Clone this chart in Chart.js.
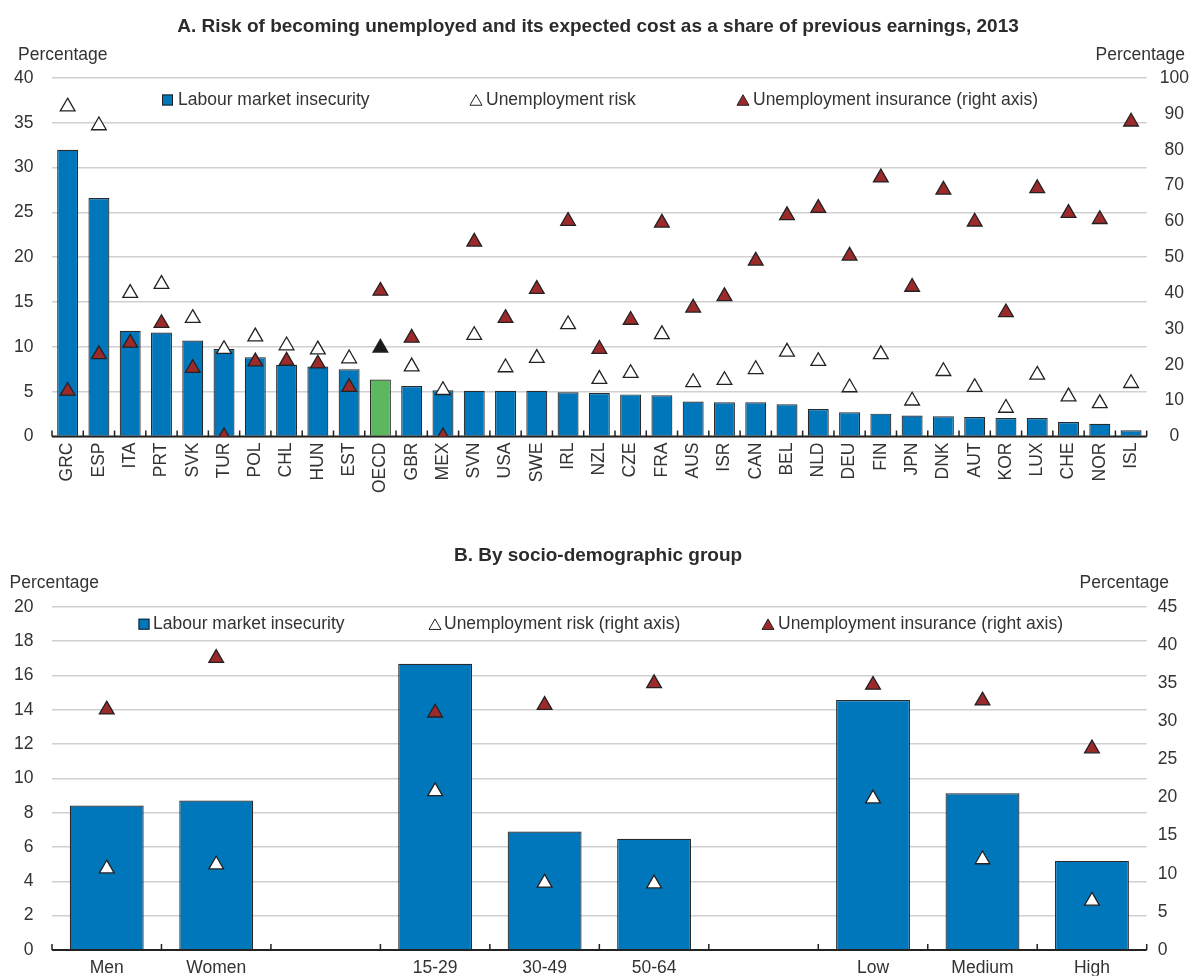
<!DOCTYPE html>
<html>
<head>
<meta charset="utf-8">
<title>Labour market insecurity</title>
<script src="https://cdn.jsdelivr.net/npm/chart.js@4/dist/chart.umd.min.js"></script>
<style>
  html, body { margin: 0; padding: 0; background: #fff; overflow: hidden; }
  .panel { position: relative; width: 1196px; }
  #panel-a { height: 500px; }
  #panel-b { height: 479px; }
</style>
</head>
<body>
<div class="panel" id="panel-a"><canvas id="chart-a"></canvas></div>
<div class="panel" id="panel-b"><canvas id="chart-b"></canvas></div>
<script>
// Panel A: countries, 2013
const countries = ['GRC', 'ESP', 'ITA', 'PRT', 'SVK', 'TUR', 'POL', 'CHL', 'HUN', 'EST', 'OECD', 'GBR', 'MEX', 'SVN', 'USA', 'SWE', 'IRL', 'NZL', 'CZE', 'FRA', 'AUS', 'ISR', 'CAN', 'BEL', 'NLD', 'DEU', 'FIN', 'JPN', 'DNK', 'AUT', 'KOR', 'LUX', 'CHE', 'NOR', 'ISL'];
const insecurityA = [32.0, 26.6, 11.8, 11.6, 10.7, 9.75, 8.85, 8.0, 7.8, 7.5, 6.35, 5.64, 5.16, 5.1, 5.1, 5.1, 4.94, 4.86, 4.7, 4.6, 3.9, 3.82, 3.82, 3.6, 3.07, 2.7, 2.55, 2.33, 2.25, 2.18, 2.07, 2.07, 1.62, 1.43, 0.69];
const riskA = [36.8, 34.7, 16.0, 17.0, 13.2, 9.74, 11.15, 10.15, 9.7, 8.7, 9.9, 7.8, 5.16, 11.3, 7.7, 8.74, 12.5, 6.4, 7.06, 11.4, 6.05, 6.28, 7.5, 9.44, 8.4, 5.47, 9.16, 3.99, 7.28, 5.5, 3.18, 6.87, 4.45, 3.7, 5.94];
const insuranceA = [12.7, 22.9, 26.1, 31.6, 19.05, 0, 20.9, 21.1, 20.3, 13.75, 40.6, 27.5, 0, 54.3, 33.0, 41.1, 60.1, 24.4, 32.5, 59.6, 35.9, 39.1, 49.0, 61.7, 63.7, 50.4, 72.2, 41.7, 68.8, 59.9, 34.6, 69.2, 62.3, 60.6, 87.8];
const ticksA = { left: [0, 40, 5], right: [0, 100, 10] };

// Panel B: socio-demographic groups (blank slots separate the groups)
const groups = ['Men', 'Women', '', '15-29', '30-49', '50-64', '', 'Low', 'Medium', 'High'];
const insecurityB = [8.42, 8.71, null, 16.67, 6.9, 6.48, null, 14.56, 9.13, 5.19];
const riskB = [10.66, 11.18, null, 20.8, 8.8, 8.7, null, 19.84, 11.86, 6.43];
const insuranceB = [31.5, 38.26, null, 31.1, 32.1, 34.95, null, 34.74, 32.68, 26.4];
const ticksB = { left: [0, 20, 2], right: [0, 45, 5] };

const FONT = '"Liberation Sans", Arial, Helvetica, sans-serif';
const TEXT = '#333333';
const AXIS = '#222222';
const BLUE = '#0076bb';
const GREEN = '#5cb85c';
const RED = '#9c2a2b';
const GRID = '#d0d0d0';

Chart.defaults.font.family = FONT;
Chart.defaults.font.size = 17.5;
Chart.defaults.color = TEXT;

// triangle whose bounding box is centred on (cx, cy)
function triangle(ctx, cx, cy, w, h) {
  ctx.beginPath();
  ctx.moveTo(cx, cy - h / 2);
  ctx.lineTo(cx + w / 2, cy + h / 2);
  ctx.lineTo(cx - w / 2, cy + h / 2);
  ctx.closePath();
  ctx.fill();
  ctx.stroke();
}

// x axis line + category ticks (drawn right after the bars, below the markers),
// unit captions and the in-plot legend
const panelDecor = {
  id: 'panelDecor',
  afterDatasetDraw(chart, args) {
    if (args.meta.type !== 'bar') return;
    const { ctx, chartArea: area } = chart;
    const xs = chart.scales.x;
    const n = xs.getLabels().length;
    const step = (xs.right - xs.left) / n;
    ctx.save();
    ctx.strokeStyle = AXIS;
    ctx.lineWidth = 2.2;
    ctx.beginPath();
    ctx.moveTo(xs.left, area.bottom);
    ctx.lineTo(xs.right, area.bottom);
    ctx.stroke();
    ctx.lineWidth = 1.5;
    ctx.beginPath();
    for (let i = 0; i <= n; i++) {
      const px = xs.left + i * step;
      ctx.moveTo(px, area.bottom);
      ctx.lineTo(px, area.bottom - 6);
    }
    ctx.stroke();
    ctx.restore();
  },
  afterDraw(chart, args, opts) {
    const { ctx, chartArea: area } = chart;
    ctx.save();
    ctx.font = '17.5px ' + FONT;
    ctx.fillStyle = TEXT;
    ctx.textBaseline = 'alphabetic';
    ctx.textAlign = 'left';
    ctx.fillText('Percentage', opts.unitLeftX, opts.unitY);
    ctx.textAlign = 'right';
    ctx.fillText('Percentage', opts.unitRightX, opts.unitY);

    const ly = area.top + opts.legendOffset;
    ctx.textBaseline = 'middle';
    ctx.textAlign = 'left';
    opts.legend.forEach((item) => {
      ctx.fillStyle = item.fill;
      ctx.strokeStyle = AXIS;
      ctx.lineWidth = 1;
      if (item.style === 'rect') {
        ctx.fillRect(item.x, ly - 5.5, 11, 11);
        ctx.strokeRect(item.x + 0.5, ly - 5, 10, 10);
      } else {
        triangle(ctx, item.x + 6, ly, 12, 10.5);
      }
      ctx.fillStyle = TEXT;
      ctx.fillText(item.text, item.textX, ly);
    });
    ctx.restore();
  },
};

function yAxis(position, range, width, padding, align) {
  return {
    position,
    min: range[0],
    max: range[1],
    afterFit: (s) => { s.width = width; },
    ticks: { stepSize: range[2], padding, crossAlign: align, color: TEXT },
    grid: position === 'left'
      ? { color: GRID, lineWidth: 1.6, drawTicks: false }
      : { drawOnChartArea: false, drawTicks: false },
    border: { display: false },
  };
}

function buildChart(id, cfg) {
  return new Chart(document.getElementById(id), {
    type: 'bar',
    data: {
      labels: cfg.labels,
      datasets: [
        {
          label: 'Unemployment insurance',
          type: 'line',
          data: cfg.insurance,
          yAxisID: 'y1',
          showLine: false,
          pointStyle: 'triangle',
          pointRadius: 8.5,
          pointBackgroundColor: RED,
          pointBorderColor: AXIS,
          pointBorderWidth: 1.3,
          order: 1,
        },
        {
          label: 'Unemployment risk',
          type: 'line',
          data: cfg.risk,
          yAxisID: cfg.riskAxis,
          showLine: false,
          pointStyle: 'triangle',
          pointRadius: 8.5,
          pointBackgroundColor: cfg.labels.map((l) => (l === 'OECD' ? '#1a1a1a' : '#ffffff')),
          pointBorderColor: AXIS,
          pointBorderWidth: 1.3,
          order: 2,
        },
        {
          label: 'Labour market insecurity',
          data: cfg.insecurity,
          yAxisID: 'y',
          backgroundColor: cfg.labels.map((l) => (l === 'OECD' ? GREEN : BLUE)),
          borderColor: '#2a2a2a',
          borderWidth: 1.2,
          borderSkipped: 'bottom',
          categoryPercentage: 1,
          barPercentage: cfg.barPct,
          order: 3,
        },
      ],
    },
    options: {
      responsive: true,
      maintainAspectRatio: false,
      animation: false,
      events: [],
      layout: { padding: 0 },
      plugins: {
        legend: { display: false },
        tooltip: { enabled: false },
        title: {
          display: true,
          text: cfg.title,
          color: '#2b2b2b',
          font: { size: 19, weight: 'bold' },
          padding: cfg.titlePad,
        },
        panelDecor: cfg.decor,
      },
      scales: {
        x: {
          afterFit: (s) => { s.height = cfg.xHeight; },
          grid: { display: false, drawTicks: false },
          border: { display: false },
          ticks: {
            autoSkip: false,
            minRotation: cfg.rotation,
            maxRotation: cfg.rotation,
            padding: cfg.xPad,
            color: TEXT,
          },
        },
        y: yAxis('left', cfg.ticks.left, 52, 18.5, 'near'),
        y1: yAxis('right', cfg.ticks.right, 49.3, cfg.rightPad, cfg.rightAlign),
      },
    },
    plugins: [panelDecor],
  });
}

buildChart('chart-a', {
  title: 'A. Risk of becoming unemployed and its expected cost as a share of previous earnings, 2013',
  labels: countries,
  insecurity: insecurityA,
  risk: riskA,
  insurance: insuranceA,
  riskAxis: 'y',
  ticks: ticksA,
  barPct: 0.67,
  rotation: 90,
  xPad: 6,
  xHeight: 63.5,
  rightPad: 13,
  rightAlign: 'center',
  titlePad: { top: 15.2, bottom: 40 },
  decor: {
    unitY: 60, unitLeftX: 18, unitRightX: 1185,
    legendOffset: 22,
    legend: [
      { style: 'rect', fill: BLUE, x: 162, textX: 178, text: 'Labour market insecurity' },
      { style: 'tri', fill: '#ffffff', x: 470, textX: 486, text: 'Unemployment risk' },
      { style: 'tri', fill: RED, x: 737, textX: 753, text: 'Unemployment insurance (right axis)' },
    ],
  },
});

buildChart('chart-b', {
  title: 'B. By socio-demographic group',
  labels: groups,
  insecurity: insecurityB,
  risk: riskB,
  insurance: insuranceB,
  riskAxis: 'y1',
  ticks: ticksB,
  barPct: 0.675,
  rotation: 0,
  xPad: 8,
  xHeight: 25.7,
  rightPad: 11,
  rightAlign: 'near',
  titlePad: { top: 44.6, bottom: 39.3 },
  decor: {
    unitY: 88, unitLeftX: 9.5, unitRightX: 1169,
    legendOffset: 17.5,
    legend: [
      { style: 'rect', fill: BLUE, x: 138.5, textX: 153, text: 'Labour market insecurity' },
      { style: 'tri', fill: '#ffffff', x: 429, textX: 444, text: 'Unemployment risk (right axis)' },
      { style: 'tri', fill: RED, x: 762, textX: 778, text: 'Unemployment insurance (right axis)' },
    ],
  },
});
</script>
</body>
</html>
